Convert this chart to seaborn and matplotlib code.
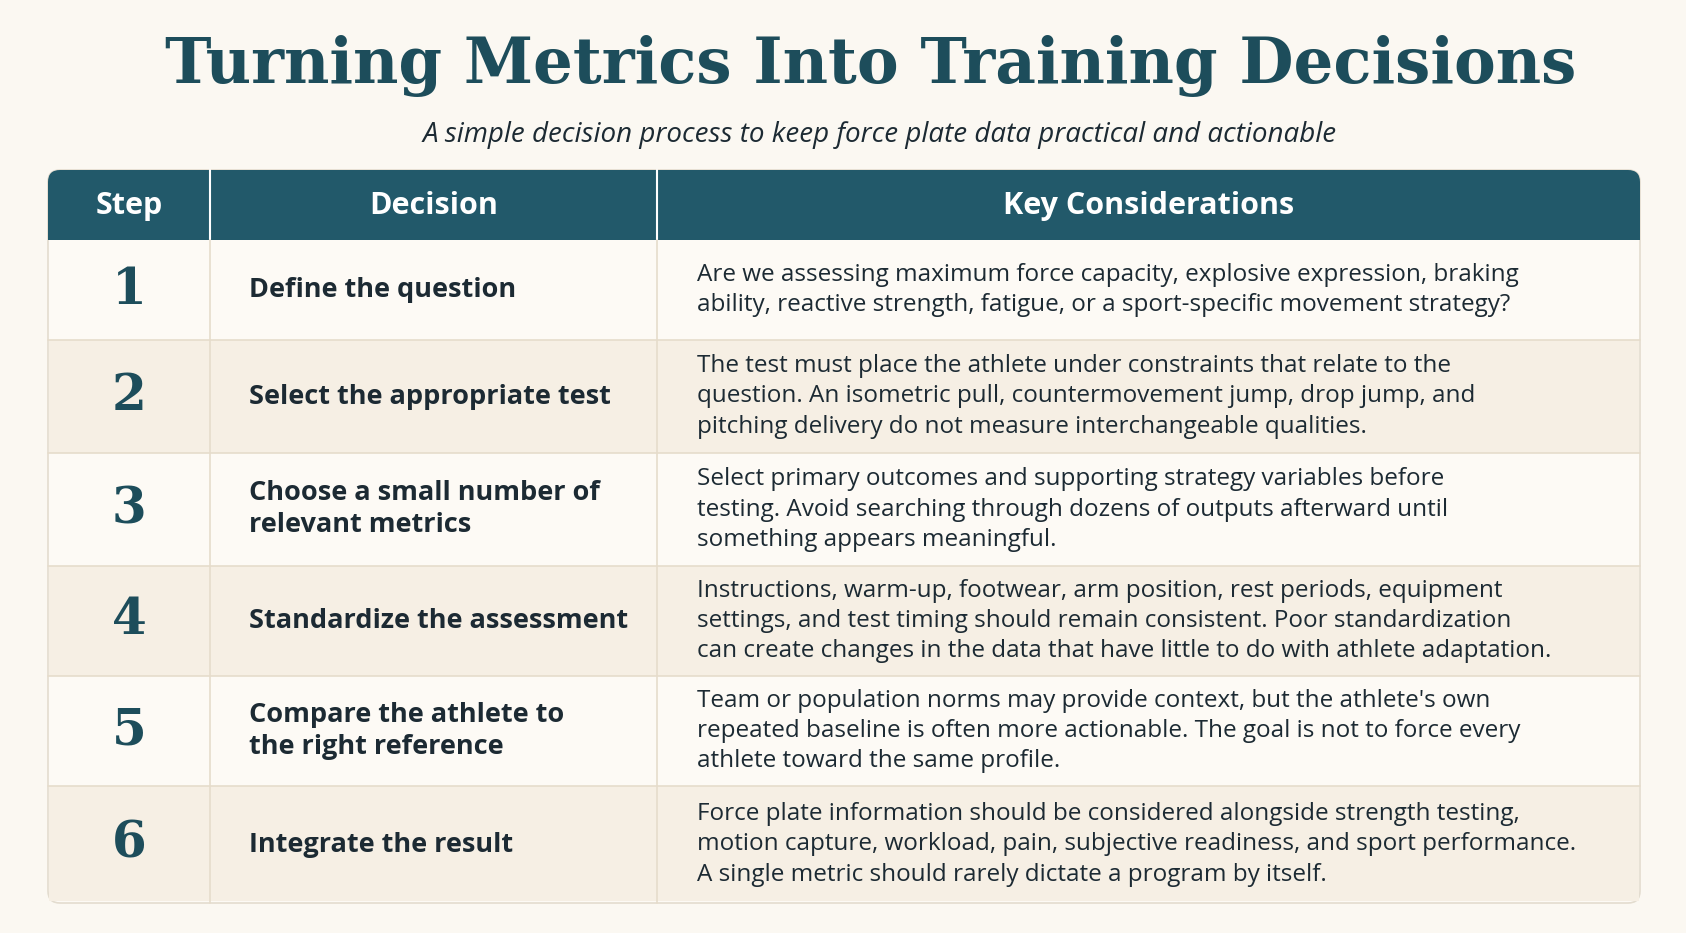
import matplotlib
matplotlib.use("Agg")
import matplotlib.pyplot as plt
from matplotlib.patches import Rectangle, FancyBboxPatch
import seaborn as sns

sns.set_theme(style="white")
plt.rcParams['font.family'] = ['Open Sans', 'DejaVu Sans']

title = "Turning Metrics Into Training Decisions"
subtitle = "A simple decision process to keep force plate data practical and actionable"
headers = ["Step", "Decision", "Key Considerations"]
steps = ["1", "2", "3", "4", "5", "6"]
decisions = [
    "Define the question",
    "Select the appropriate test",
    "Choose a small number of\nrelevant metrics",
    "Standardize the assessment",
    "Compare the athlete to\nthe right reference",
    "Integrate the result",
]
considerations = [
    "Are we assessing maximum force capacity, explosive expression, braking\nability, reactive strength, fatigue, or a sport-specific movement strategy?",
    "The test must place the athlete under constraints that relate to the\nquestion. An isometric pull, countermovement jump, drop jump, and\npitching delivery do not measure interchangeable qualities.",
    "Select primary outcomes and supporting strategy variables before\ntesting. Avoid searching through dozens of outputs afterward until\nsomething appears meaningful.",
    "Instructions, warm-up, footwear, arm position, rest periods, equipment\nsettings, and test timing should remain consistent. Poor standardization\ncan create changes in the data that have little to do with athlete adaptation.",
    "Team or population norms may provide context, but the athlete's own\nrepeated baseline is often more actionable. The goal is not to force every\nathlete toward the same profile.",
    "Force plate information should be considered alongside strength testing,\nmotion capture, workload, pain, subjective readiness, and sport performance.\nA single metric should rarely dictate a program by itself.",
]

teal = "#22596a"
dark = "#1c2a33"
bg = "#fbf8f2"

fig = plt.figure(figsize=(16.86, 9.33), dpi=100, facecolor=bg)
ax = fig.add_axes([0, 0, 1, 1])
ax.set_xlim(0, 1686)
ax.set_ylim(933, 0)
ax.axis("off")
ax.set_facecolor(bg)

ax.text(871, 66, title, ha="center", va="center", fontsize=45, fontweight="bold",
        color="#1d4d5b", family=["DejaVu Serif"])
ax.text(880, 135, subtitle, ha="center", va="center", fontsize=20, style="italic", color=dark)

x0, x1, x2, x3 = 48, 210, 657, 1640
row_edges = [240, 340, 453, 566, 676, 786, 903]
# outer box
ax.add_patch(FancyBboxPatch((x0, 170), x3 - x0, 903 - 170, boxstyle="round,pad=0,rounding_size=12",
                            fc="#fdfaf5", ec="#e3dccf", lw=1.2, zorder=0))
ax.add_patch(FancyBboxPatch((x0, 170), x3 - x0, 70, boxstyle="round,pad=0,rounding_size=12",
                            fc=teal, ec="none", zorder=1))
ax.add_patch(Rectangle((x0, 215), x3 - x0, 25, fc=teal, ec="none", zorder=1))
for xv in (x1, x2):
    ax.plot([xv, xv], [170, 240], color="white", lw=1.5, zorder=2)
for xc, h in zip([(x0 + x1) / 2, (x1 + x2) / 2, (x2 + x3) / 2], headers):
    ax.text(xc, 206, h, ha="center", va="center", color="white", fontsize=22, fontweight="bold", zorder=3)

for i in range(len(steps)):
    top, bot = row_edges[i], row_edges[i + 1]
    fc = "#fdfaf5" if i % 2 == 0 else "#f6efe4"
    ax.add_patch(Rectangle((x0 + 1, top), x3 - x0 - 2, bot - top - (2 if i == 5 else 0), fc=fc, ec="none", zorder=1))
    if i < len(steps) - 1:
        ax.plot([x0, x3], [bot, bot], color="#e6dccb", lw=1.2, zorder=2)
    ym = (top + bot) / 2
    ax.text((x0 + x1) / 2, ym, steps[i], ha="center", va="center", fontsize=36, fontweight="bold",
            color="#1d4d5b", family=["DejaVu Serif"], zorder=3)
    ax.text(249, ym, decisions[i], ha="left", va="center", fontsize=19.5, fontweight="bold",
            color=dark, linespacing=1.3, zorder=3)
    ax.text(697, ym, considerations[i], ha="left", va="center", fontsize=17.5,
            color=dark, linespacing=1.35, zorder=3)
for xv in (x1, x2):
    ax.plot([xv, xv], [240, 903], color="#e6dccb", lw=1.2, zorder=2)

fig.savefig("out.png", dpi=100, facecolor=bg)
